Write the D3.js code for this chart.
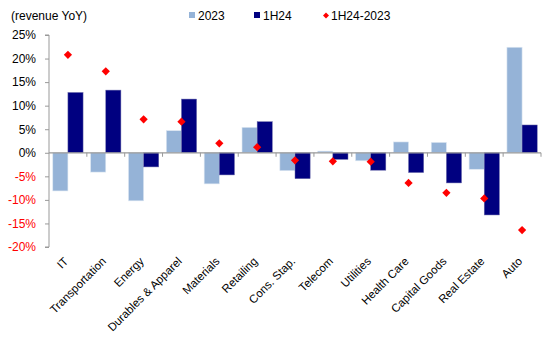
<!DOCTYPE html>
<html><head><meta charset="utf-8">
<script src="https://cdn.jsdelivr.net/npm/d3@7"></script>
<style>body{margin:0;background:#fff}text{font-family:Arial,"Liberation Sans",sans-serif}</style>
</head><body><svg id="c" width="556" height="342"></svg>
<script>
const categories = ["IT","Transportation","Energy","Durables & Apparel","Materials","Retailing","Cons. Stap.","Telecom","Utilities","Health Care","Capital Goods","Real Estate","Auto"];
const s2023 = [-8.1,-4.1,-10.2,4.7,-6.6,5.4,-3.8,0.35,-1.7,2.3,2.2,-3.5,22.4];
const s1H24 = [12.8,13.3,-3.0,11.4,-4.7,6.6,-5.5,-1.4,-3.7,-4.2,-6.4,-13.2,5.9];
const diff = [20.8,17.3,7.1,6.6,2.0,1.2,-1.6,-1.8,-1.9,-6.4,-8.5,-9.7,-16.4];
const yTicks = [25,20,15,10,5,0,-5,-10,-15,-20];

const svg = d3.select("#c");
const L = 49, R = 541, T = 35, B = 247;
const x = d3.scaleBand().domain(categories).range([L, R]).paddingInner(0.2).paddingOuter(0.1);
const y = d3.scaleLinear().domain([-20, 25]).range([B, T]);
const sub = d3.scaleBand().domain(["a","b"]).range([0, x.bandwidth()]);

// bars
const g = svg.append("g");
g.selectAll(".b1").data(categories).join("rect")
  .attr("x", d => x(d)).attr("width", sub.bandwidth())
  .attr("y", (d,i) => y(Math.max(0, s2023[i]))).attr("height", (d,i) => Math.abs(y(s2023[i]) - y(0)))
  .attr("fill", "#95B3D7").attr("stroke", "#dde7f2").attr("stroke-width", 0.6);
g.selectAll(".b2").data(categories).join("rect")
  .attr("x", d => x(d) + sub("b")).attr("width", sub.bandwidth())
  .attr("y", (d,i) => y(Math.max(0, s1H24[i]))).attr("height", (d,i) => Math.abs(y(s1H24[i]) - y(0)))
  .attr("fill", "#000080").attr("stroke", "#6c6caa").attr("stroke-width", 0.5);

// y axis
const ya = svg.append("g").attr("transform", `translate(${L},0)`)
  .call(d3.axisLeft(y).tickValues(yTicks).tickSize(4).tickPadding(9).tickFormat(d => d + "%"));
ya.select(".domain").attr("stroke", "#999").attr("d", `M-4,${T}H0V${B}H-4`);
ya.selectAll(".tick line").attr("stroke", "#999");
ya.selectAll(".tick text").attr("font-size", 12).attr("font-family", "Arial, 'Liberation Sans', sans-serif")
  .attr("fill", d => d < 0 ? "#ff0000" : "#000");

// x axis at zero
const bounds = d3.range(categories.length + 1).map(i => L + i * (R - L) / categories.length);
svg.append("line").attr("x1", L).attr("x2", R).attr("y1", y(0)).attr("y2", y(0)).attr("stroke", "#999").attr("stroke-width", 1.2);
svg.selectAll(".xt").data(bounds.slice(1)).join("line")
  .attr("x1", d => d).attr("x2", d => d).attr("y1", y(0)).attr("y2", y(0) + 4).attr("stroke", "#999");

// x labels
svg.selectAll(".xl").data(categories).join("text")
  .attr("transform", d => `translate(${x(d) + x.bandwidth()/2 + 1},${B + 15}) rotate(-45)`)
  .attr("text-anchor", "end").attr("font-size", 11.5).attr("fill", "#000").text(d => d);

// diamonds
svg.selectAll(".dm").data(categories).join("path")
  .attr("d", d3.symbol().type(d3.symbolSquare).size(34))
  .attr("transform", (d,i) => `translate(${x(d) + x.bandwidth()/2},${y(diff[i])}) rotate(45)`)
  .attr("fill", "#ff0000");

// title & legend
svg.append("text").attr("x", 11).attr("y", 20).attr("font-size", 12).text("(revenue YoY)");
const lg = svg.append("g");
lg.append("rect").attr("x", 189).attr("y", 12).attr("width", 6).attr("height", 6).attr("fill", "#95B3D7");
lg.append("text").attr("x", 198).attr("y", 20).attr("font-size", 12).text("2023");
lg.append("rect").attr("x", 254).attr("y", 12).attr("width", 6).attr("height", 6).attr("fill", "#000080");
lg.append("text").attr("x", 263).attr("y", 20).attr("font-size", 12).text("1H24");
lg.append("path").attr("d", d3.symbol().type(d3.symbolSquare).size(18)).attr("transform", "translate(326,15.5) rotate(45)").attr("fill", "#ff0000");
lg.append("text").attr("x", 331).attr("y", 20).attr("font-size", 12).text("1H24-2023");
</script></body></html>
